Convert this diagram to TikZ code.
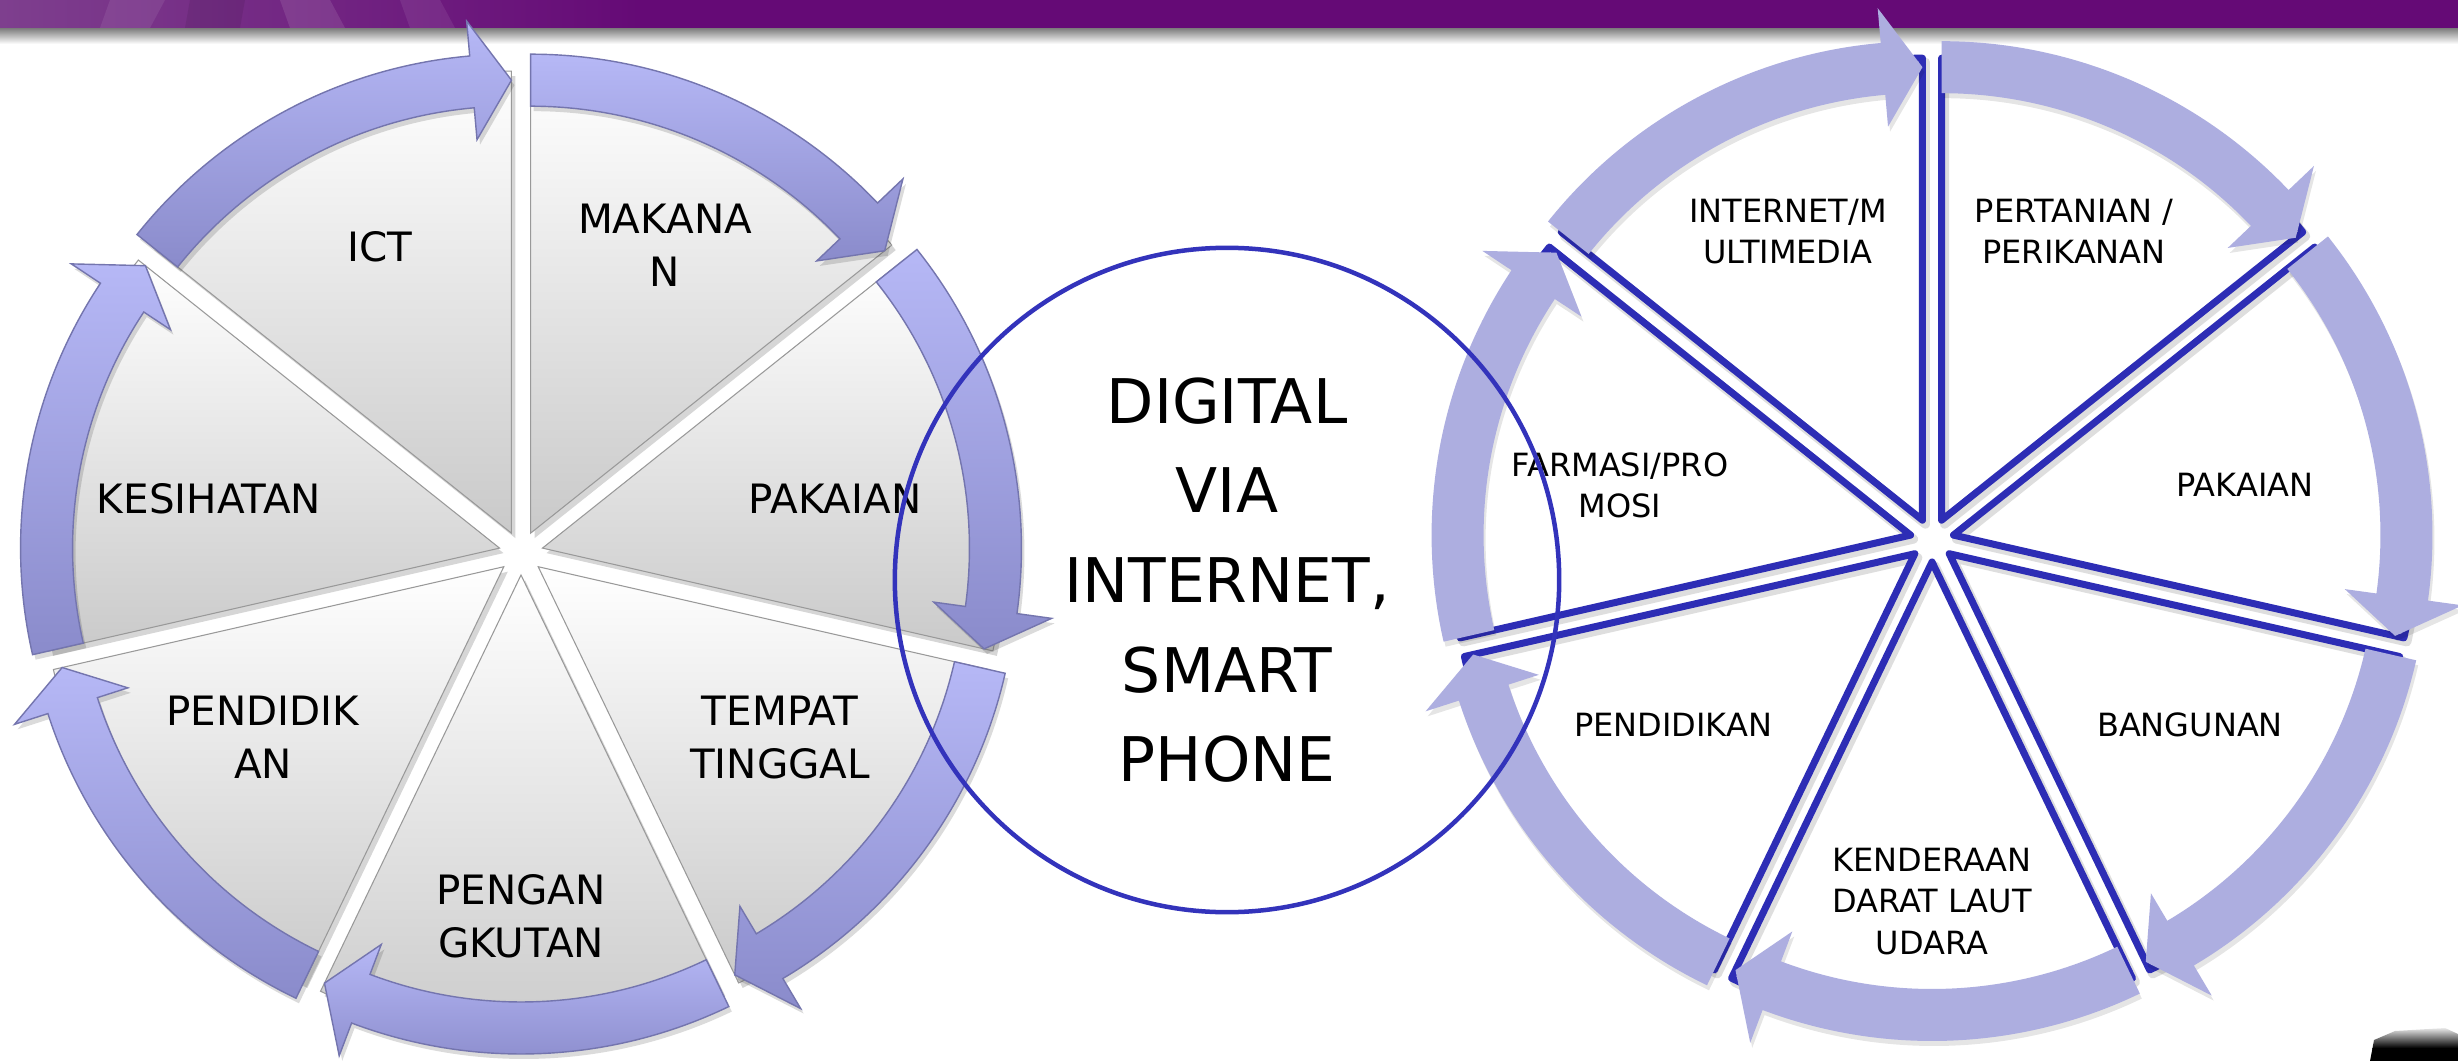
\documentclass[tikz,border=0pt]{standalone}
\usepackage{fontspec}
\setmainfont{DejaVu Sans}
\usetikzlibrary{calc}
\definecolor{barpurple}{HTML}{650A76}
\definecolor{barlight}{HTML}{7E3F8E}
\definecolor{arrtop}{HTML}{B6B8F6}
\definecolor{arrbot}{HTML}{8A8BCB}
\definecolor{arredge}{HTML}{7475AE}
\definecolor{rarrow}{HTML}{ADAEE0}
\definecolor{bline}{HTML}{2D2DB5}
\definecolor{circblue}{HTML}{3333BB}
\newcommand\segwedge[2]{\path[#1] (#2) -- ($(#2)+(\aA:462)$) arc[start angle=\aA, end angle=\aB, radius=462] -- cycle;}
\newcommand\segarrow[2]{\path[#1] ($(#2)+(\aA:479)$) arc[start angle=\aA, end angle=\aH, radius=479] -- ($(#2)+(\aH:514)$) -- ($(#2)+(\aB:453)$) -- ($(#2)+(\aH:395)$) -- ($(#2)+(\aH:427)$) arc[start angle=\aH, end angle=\aA, radius=427] -- cycle;}
\tikzset{
  wedgeL/.style={top color=white, bottom color=black!21, draw=black!40, line width=0.3pt},
  shadowL/.style={fill=black, opacity=0.16},
  arrowL/.style={top color=arrtop, bottom color=arrbot, draw=arredge, line width=0.4pt},
  arrowLshadow/.style={fill=black, opacity=0.14},
  wedgeR/.style={draw=bline, line width=0.07cm, line join=round},
  wedgeRshadow/.style={draw=black, opacity=0.13, line width=0.09cm, line join=round},
  arrowR/.style={fill=rarrow},
  arrowRshadow/.style={fill=black, opacity=0.10},
  lblL/.style={font=\fontsize{11.5pt}{15pt}\selectfont, align=center, inner sep=0pt},
  lblR/.style={font=\fontsize{9.1pt}{11.7pt}\selectfont, align=center, inner sep=0pt},
  hub/.style={circle, draw=circblue, line width=0.045cm, minimum size=6.64cm, inner sep=0pt,
    font=\fontsize{17.5pt}{25.5pt}\selectfont, align=center},
}
\begin{document}
\begin{tikzpicture}[x=0.01cm,y=0.01cm]
\useasboundingbox (0,0) rectangle (2458,-1061);
\fill[white] (0,0) rectangle (2458,-1061);
% top bar
\shade[top color=black!55, bottom color=white] (0,-27) rectangle (2458,-44);
\fill[barpurple] (0,0) rectangle (2458,-28);
\shade[left color=barlight, right color=barpurple] (0,0) rectangle (640,-28);
\fill[white, opacity=0.08] (110,0) -- (165,0) -- (150,-28) -- (100,-28) -- cycle;
\fill[white, opacity=0.10] (280,0) -- (330,0) -- (345,-28) -- (290,-28) -- cycle;
\fill[black, opacity=0.08] (190,0) -- (245,0) -- (240,-28) -- (185,-28) -- cycle;
\fill[white, opacity=0.08] (400,0) -- (440,0) -- (455,-28) -- (410,-28) -- cycle;
% black blob bottom right
\begin{scope}
  \clip (2370,-1061) -- (2374,-1040) -- (2395,-1031) -- (2445,-1028) -- (2458,-1034) -- (2458,-1061) -- cycle;
  \shade[top color=white, bottom color=black] (2360,-1026) rectangle (2458,-1048);
  \fill[black] (2360,-1047.5) rectangle (2458,-1061);
\end{scope}
\coordinate (CL) at (521,-553);
\coordinate (CR) at (1932,-540);
% ---- left wheel: wedges
\foreach \k in {0,...,6}{
  \pgfmathsetmacro\aA{141.4286-51.4286*\k}
  \pgfmathsetmacro\aB{\aA-51.4286}
  \pgfmathsetmacro\aH{\aB+5}
  \pgfmathsetmacro\bis{\aA-25.7143}
  \coordinate (T) at ($(CL)+(\bis:22)$);
  \coordinate (Ts) at ($(T)+(4,-5)$);
  \segwedge{shadowL}{Ts}
  \segwedge{wedgeL}{T}
}
% ---- left wheel: arrows
\foreach \k in {0,...,6}{
  \pgfmathsetmacro\aA{141.4286-51.4286*\k}
  \pgfmathsetmacro\aB{\aA-51.4286}
  \pgfmathsetmacro\aH{\aB+5}
  \pgfmathsetmacro\bis{\aA-25.7143}
  \coordinate (T) at ($(CL)+(\bis:22)$);
  \coordinate (Ts) at ($(T)+(3,-5)$);
  \segarrow{arrowLshadow}{Ts}
  \segarrow{arrowL}{T}
}
% ---- right wheel: wedge outlines
\foreach \k in {0,...,6}{
  \pgfmathsetmacro\aA{141.4286-51.4286*\k}
  \pgfmathsetmacro\aB{\aA-51.4286}
  \pgfmathsetmacro\aH{\aB+5}
  \pgfmathsetmacro\bis{\aA-25.7143}
  \coordinate (T) at ($(CR)+(\bis:22)$);
  \coordinate (Ts) at ($(T)+(3,-4)$);
  \segwedge{wedgeRshadow}{Ts}
  \segwedge{wedgeR}{T}
}
% ---- right wheel: arrows
\foreach \k in {0,...,6}{
  \pgfmathsetmacro\aA{141.4286-51.4286*\k}
  \pgfmathsetmacro\aB{\aA-51.4286}
  \pgfmathsetmacro\aH{\aB+5}
  \pgfmathsetmacro\bis{\aA-25.7143}
  \coordinate (T) at ($(CR)+(\bis:22)$);
  \coordinate (Ts) at ($(T)+(2,-5)$);
  \segarrow{arrowRshadow}{Ts}
  \segarrow{arrowR}{T}
}
% ---- left labels
\node[lblL] (lict) at (380,-246.5) {ICT};
\node[lblL] (lmak) at (665,-245.5) {MAKANA\\N};
\node[lblL] (lkes) at (209,-498.5) {KESIHATAN};
\node[lblL] (lpak) at (835,-498.5) {PAKAIAN};
\node[lblL] (lpen) at (263,-737.5) {PENDIDIK\\AN};
\node[lblL] (ltem) at (780,-737.5) {TEMPAT\\TINGGAL};
\node[lblL] (lpeng) at (521,-916.5) {PENGAN\\GKUTAN};
% ---- right labels
\node[lblR] (rint) at (1788,-231.5) {INTERNET/M\\ULTIMEDIA};
\node[lblR] (rper) at (2074,-231.5) {PERTANIAN /\\PERIKANAN};
\node[lblR] (rfar) at (1620,-485) {FARMASI/PRO\\MOSI};
\node[lblR] (rpak) at (2245,-485) {PAKAIAN};
\node[lblR] (rpen) at (1673,-724.5) {PENDIDIKAN};
\node[lblR] (rban) at (2190,-724.5) {BANGUNAN};
\node[lblR] (rken) at (1932,-901.5) {KENDERAAN\\DARAT LAUT\\UDARA};
% ---- centre circle
\node[hub] (hub) at (1227,-580) {DIGITAL\\VIA\\INTERNET,\\SMART\\PHONE};
\end{tikzpicture}
\end{document}
